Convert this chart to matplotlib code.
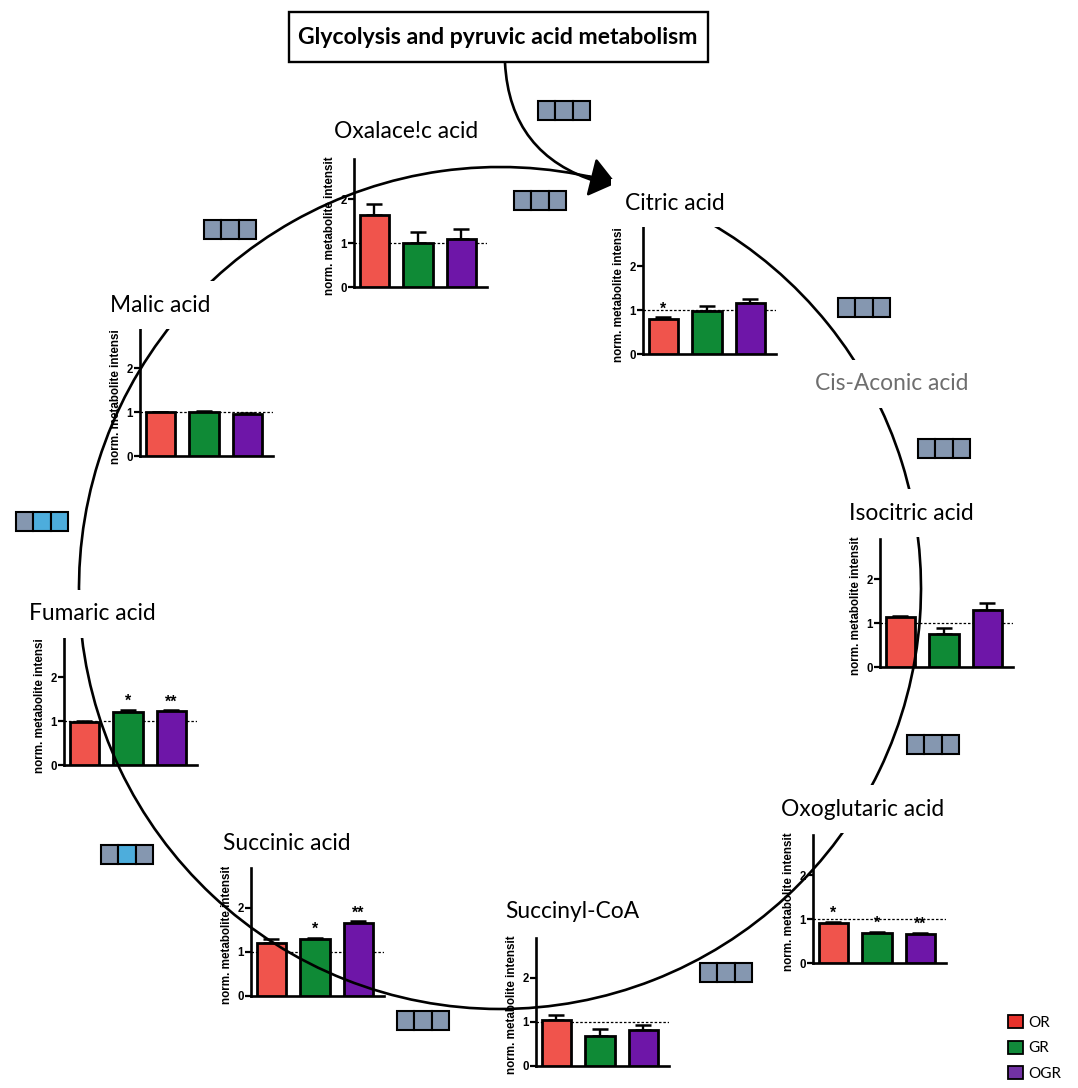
import numpy as np
import matplotlib
matplotlib.use("Agg")
import matplotlib.pyplot as plt
from matplotlib.patches import Rectangle, Arc, Patch

W, H = 1078, 1088

# data
metabolites = ["Oxalace!c acid", "Citric acid", "Isocitric acid", "Oxoglutaric acid",
               "Succinyl-CoA", "Succinic acid", "Fumaric acid", "Malic acid"]
groups = ["OR", "GR", "OGR"]
or_values = [1.63, 0.80, 1.14, 0.92, 1.04, 1.20, 0.98, 0.99]
or_errors = [0.26, 0.03, 0.03, 0.02, 0.13, 0.10, 0.02, 0.02]
gr_values = [0.99, 0.97, 0.76, 0.68, 0.69, 1.30, 1.21, 1.00]
gr_errors = [0.25, 0.12, 0.13, 0.03, 0.16, 0.02, 0.04, 0.03]
ogr_values = [1.08, 1.15, 1.29, 0.65, 0.81, 1.66, 1.23, 0.96]
ogr_errors = [0.23, 0.10, 0.16, 0.04, 0.13, 0.04, 0.01, 0.01]
or_stars = ["", "*", "", "*", "", "", "", ""]
gr_stars = ["", "", "", "*", "", "*", "*", ""]
ogr_stars = ["", "", "", "**", "", "**", "**", ""]
ylabels = ["norm. metabolite intensit", "norm. metabolite intensi",
           "norm. metabolite intensit", "norm. metabolite intensit",
           "norm. metabolite intensit", "norm. metabolite intensit",
           "norm. metabolite intensi", "norm. metabolite intensi"]
title = "Glycolysis and pyruvic acid metabolism"
extra_label = "Cis-Aconic acid"
# gene boxes: g = grey, b = blue
gene_patterns = ["ggg", "ggg", "ggg", "ggg", "ggg", "ggg", "ggg", "ggg", "gbg", "gbb"]

# layout (pixels in the image)
chart_origins = [(354, 287), (643, 354), (880, 667), (813, 963),
                 (536, 1066), (251, 996), (64, 765), (140, 456)]
label_pos = [(406, 131), (675, 203), (911, 513), (863, 809),
             (572, 912), (287, 843), (92, 614), (160, 305)]
extra_pos = (892, 384)
gene_pos = [(538, 101), (514, 191), (204, 220), (838, 298), (918, 439),
            (907, 735), (700, 963), (397, 1011), (101, 845), (16, 512)]

bar_colors = ["#F0544C", "#0F8A36", "#6E16A8"]
legend_colors = ["#E8322B", "#118A3A", "#7232A4"]
cell_colors = {"g": "#8597B0", "b": "#4DADDC"}

XL = (-0.47, 2.58)
YL = (0, 2.9)
PX = 43.5
ax_w = (XL[1] - XL[0]) * PX
ax_h = (YL[1] - YL[0]) * 44

fig = plt.figure(figsize=(W / 100, H / 100), dpi=100)

for i, name in enumerate(metabolites):
    sx, zy = chart_origins[i]
    ax = fig.add_axes([sx / W, 1 - zy / H, ax_w / W, ax_h / H])
    ax.set_facecolor("none")
    vals = [or_values[i], gr_values[i], ogr_values[i]]
    errs = [or_errors[i], gr_errors[i], ogr_errors[i]]
    stars = [or_stars[i], gr_stars[i], ogr_stars[i]]
    x = np.arange(3)
    ax.bar(x, vals, width=0.68, color=bar_colors, edgecolor="black",
           linewidth=2.0, zorder=3)
    ax.errorbar(x, vals, yerr=[np.zeros(3), errs], fmt="none", ecolor="black",
                elinewidth=1.7, capsize=5.5, capthick=1.8, zorder=2)
    ax.axhline(1, color="black", lw=0.9, ls=(0, (2, 1.5)), zorder=1)
    for xi, v, e, s in zip(x, vals, errs, stars):
        if s:
            ax.text(xi, v + e + 0.02, s, ha="center", va="bottom",
                    fontsize=11.5, fontweight="bold", family="Liberation Sans")
    ax.set_xlim(*XL)
    ax.set_ylim(*YL)
    ax.set_xticks([])
    ax.set_yticks([0, 1, 2])
    for side in ["top", "right"]:
        ax.spines[side].set_visible(False)
    for side in ["left", "bottom"]:
        ax.spines[side].set_linewidth(1.9)
    ax.tick_params(axis="y", length=4, width=1.6, pad=1, labelsize=8.3)
    for lab in ax.get_yticklabels():
        lab.set_fontweight("bold")
        lab.set_family("Liberation Sans")
    ax.text(-24 / ax_w, -8 / ax_h, ylabels[i], transform=ax.transAxes,
            rotation=90, ha="center", va="bottom", fontsize=8.4,
            fontweight="bold", family="Liberation Sans")

# overlay for the cycle, labels and boxes
ov = fig.add_axes([0, 0, 1, 1], zorder=10)
ov.set_xlim(0, W)
ov.set_ylim(H, 0)
ov.axis("off")

cx, cy, r = 500, 588, 421
ov.add_patch(Arc((cx, cy), 2 * r, 2 * r, theta1=299.7, theta2=283.5,
                 lw=1.9, color="black"))
t_tail, t_tip = np.deg2rad(282.0), np.deg2rad(286.0)
ov.annotate("", xy=(cx + r * np.cos(t_tip), cy + r * np.sin(t_tip)),
            xytext=(cx + r * np.cos(t_tail), cy + r * np.sin(t_tail)),
            arrowprops=dict(arrowstyle="-|>,head_length=0.4,head_width=0.31",
                            mutation_scale=40, color="black", lw=1.9,
                            shrinkA=0, shrinkB=0))
ov.annotate("", xy=(598, 182), xytext=(505, 63),
            arrowprops=dict(arrowstyle="-", connectionstyle="arc3,rad=0.35",
                            color="black", lw=1.9, shrinkA=0, shrinkB=0))

# title box
ov.add_patch(Rectangle((289, 12), 419, 50, facecolor="white",
                       edgecolor="black", lw=1.7, zorder=5))
ov.text(498, 38, title, ha="center", va="center", fontsize=16.6,
        fontweight="bold", family="Lato", zorder=6)

for name, (lx, ly) in zip(metabolites, label_pos):
    ov.text(lx, ly, name, ha="center", va="center", fontsize=16.4, family="Lato",
            zorder=6, bbox=dict(facecolor="white", edgecolor="none", pad=10))
ov.text(extra_pos[0], extra_pos[1], extra_label, ha="center", va="center",
        fontsize=16.4, family="Lato", color="#6E6E6E", zorder=6,
        bbox=dict(facecolor="white", edgecolor="none", pad=10))

cw, ch = 17.4, 19
for pat, (gx, gy) in zip(gene_patterns, gene_pos):
    for k, c in enumerate(pat):
        ov.add_patch(Rectangle((gx + k * cw, gy), cw, ch, facecolor=cell_colors[c],
                               edgecolor="black", lw=1.5, zorder=7))

handles = [Patch(facecolor=c, edgecolor="black", lw=1.3) for c in legend_colors]
fig.legend(handles, groups, loc="upper left", bbox_to_anchor=(1008 / W, 1 - 1015 / H),
           frameon=False, prop={"family": "Lato", "size": 11}, handlelength=0.95,
           handleheight=0.95, handletextpad=0.35, labelspacing=0.7,
           borderaxespad=0, borderpad=0)

fig.savefig("out.png", dpi=100)
